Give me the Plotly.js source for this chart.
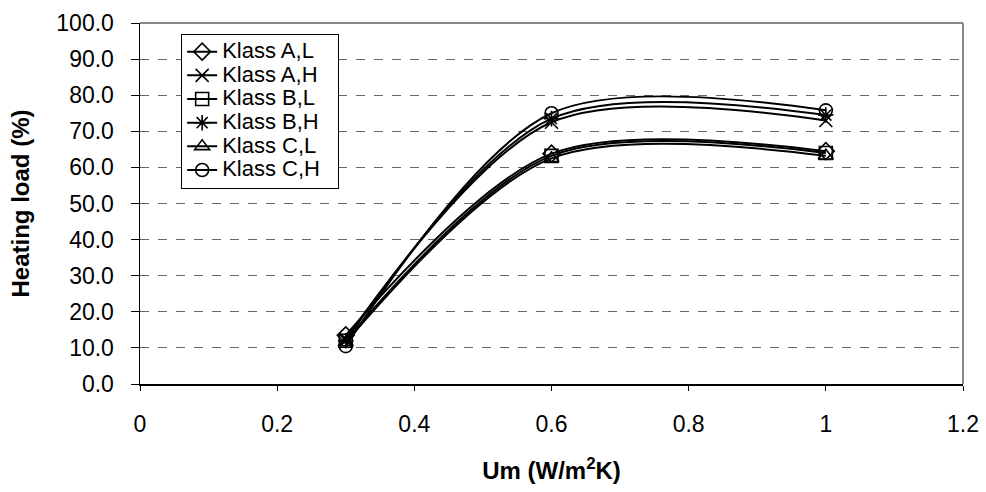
<!DOCTYPE html>
<html>
<head>
<meta charset="utf-8">
<script src="https://cdn.plot.ly/plotly-3.0.1.min.js"></script>
<style>html,body{margin:0;padding:0;background:#fff;}#chart{width:986px;height:492px;}</style>
</head>
<body>
<div id="chart"></div>
<script>
const um = [0.3, 0.6, 1.0];
const seriesNames = ["Klass A,L", "Klass A,H", "Klass B,L", "Klass B,H", "Klass C,L", "Klass C,H"];
const klassAL = [13.5, 63.8, 64.5];
const klassAH = [12.5, 72.5, 73.0];
const klassBL = [12.0, 63.2, 64.0];
const klassBH = [12.0, 73.5, 74.5];
const klassCL = [11.5, 62.5, 63.2];
const klassCH = [10.5, 75.0, 75.8];
const yTicks = [0,10,20,30,40,50,60,70,80,90,100];
const xTicks = [0,0.2,0.4,0.6,0.8,1.0,1.2];

const values = [klassAL, klassAH, klassBL, klassBH, klassCL, klassCH];
const symbols = ["diamond-open","x-thin-open","square-open","asterisk-open","triangle-up-open","circle-open"];

const traces = values.map((v, i) => ({
  x: um, y: v, name: '<span style="font-size:22px">' + seriesNames[i] + '&nbsp;&nbsp;</span>',
  type: "scatter", mode: "lines+markers",
  line: {color: "#000", width: 2, shape: "spline", smoothing: 0.9},
  marker: {symbol: symbols[i], size: 13, color: "#000", line: {color: "#000", width: 1.6}}
}));

const layout = {
  width: 986, height: 492,
  margin: {l: 140, r: 23, t: 23, b: 108},
  paper_bgcolor: "#fff", plot_bgcolor: "#fff",
  font: {family: "Liberation Sans, Arial, sans-serif", color: "#000", size: 23},
  showlegend: true,
  legend: {x: 0.05, y: 0.97, xanchor: "left", yanchor: "top",
    bgcolor: "#fff", bordercolor: "#000", borderwidth: 1,
    font: {size: 15.9}, tracegroupgap: 0},
  xaxis: {range: [0, 1.2], tickvals: xTicks, ticktext: xTicks.map(String),
    showline: true, linecolor: "#000", linewidth: 1.5, mirror: false,
    ticks: "outside", ticklen: 5, tickcolor: "#000", showgrid: false, zeroline: false,
    tickfont: {size: 23}, ticklabelstandoff: 14,
    title: {text: "<b>Um (W/m<sup>2</sup>K)</b>", font: {size: 24}, standoff: 26}},
  yaxis: {range: [0, 100], tickvals: yTicks, tickformat: ".1f",
    showline: true, linecolor: "#000", linewidth: 1.5,
    ticks: "outside", ticklen: 8, tickcolor: "#000",
    showgrid: true, gridcolor: "#666", griddash: "dash", gridwidth: 1, zeroline: false,
    tickfont: {size: 23}, ticklabelstandoff: 12,
    title: {text: "<b>Heating load (%)</b>", font: {size: 24}, standoff: 20}},
  shapes: [
    {type: "line", xref: "paper", yref: "paper", x0: 0, x1: 1, y0: 1, y1: 1, line: {color: "#888", width: 2}},
    {type: "line", xref: "paper", yref: "paper", x0: 1, x1: 1, y0: 0, y1: 1, line: {color: "#888", width: 2}}
  ]
};

Plotly.newPlot("chart", traces, layout, {displayModeBar: false, staticPlot: true});
</script>
</body>
</html>
